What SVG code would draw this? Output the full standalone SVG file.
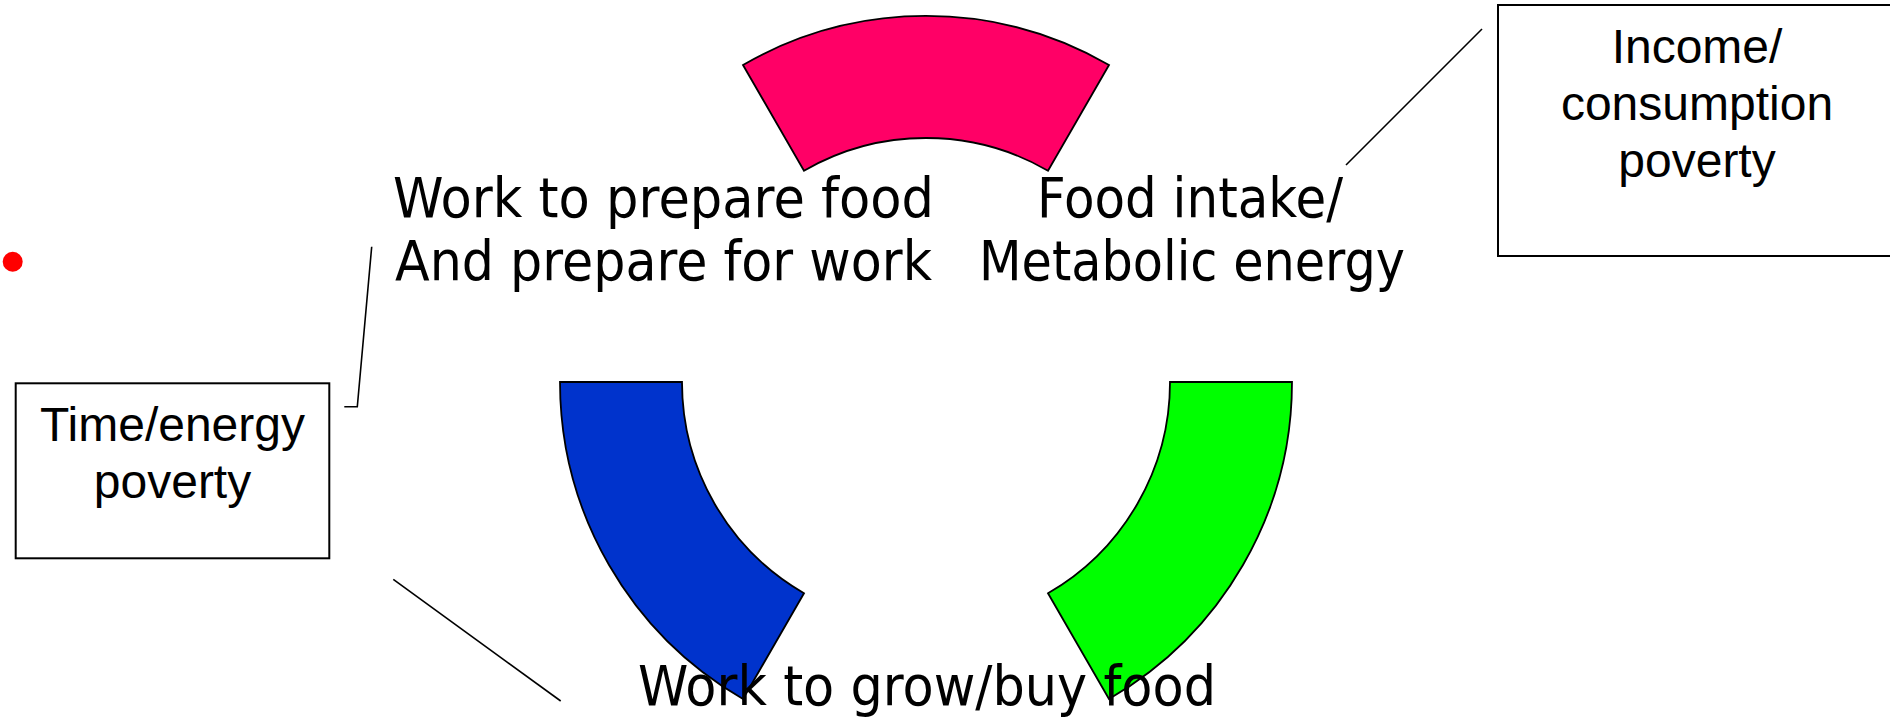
<svg xmlns="http://www.w3.org/2000/svg" width="1890" height="719" viewBox="0 0 1890 719">
  <style>
    .seg { stroke: #000; stroke-width: 1.8; stroke-linejoin: miter; }
    .box { fill: #fff; stroke: #000; stroke-width: 2; }
    .conn { fill: none; stroke: #000; stroke-width: 1.6; }
    .lbl { font-family: 'Comic Sans MS', 'DejaVu Sans', sans-serif; font-size: 56px; fill: #000; }
    .boxt { font-family: 'Liberation Sans', Arial, sans-serif; font-size: 48px; fill: #000; text-anchor: middle; }
  </style>
  <rect width="1890" height="719" fill="#fff"/>

  <g id="connectors">
    <line class="conn" x1="1346" y1="165" x2="1482" y2="29"/>
    <polyline class="conn" points="371.7,246.7 357.3,406.7 344.3,406.7"/>
    <line class="conn" x1="393.3" y1="579.3" x2="560.7" y2="701"/>
  </g>

  <g id="seg-pink">
    <path class="seg" fill="#FF0066" d="M743,65 A366,366 0 0 1 1109,65 L1048,170.7 A244,244 0 0 0 804,170.7 Z"/>
  </g>
  <g id="seg-blue">
    <path class="seg" fill="#0033CC" d="M560,382 A366,366 0 0 0 743,699 L804,593.3 A244,244 0 0 1 682,382 Z"/>
  </g>
  <g id="seg-green">
    <path class="seg" fill="#00FF00" d="M1292,382 A366,366 0 0 1 1109,699 L1048,593.3 A244,244 0 0 0 1170,382 Z"/>
  </g>

  <g id="label-prepare">
    <text class="lbl" x="393" y="217" textLength="541" lengthAdjust="spacingAndGlyphs">Work to prepare food</text>
    <text class="lbl" x="395" y="280" textLength="537" lengthAdjust="spacingAndGlyphs">And prepare for work</text>
  </g>
  <g id="label-intake">
    <text class="lbl" x="1037" y="217" textLength="306" lengthAdjust="spacingAndGlyphs">Food intake/</text>
    <text class="lbl" x="979" y="280" textLength="426" lengthAdjust="spacingAndGlyphs">Metabolic energy</text>
  </g>
  <g id="label-grow">
    <text class="lbl" x="638" y="705" textLength="578" lengthAdjust="spacingAndGlyphs">Work to grow/buy food</text>
  </g>

  <g id="box-income">
    <rect class="box" x="1498" y="5" width="398" height="251"/>
    <text class="boxt" x="1697" y="63">Income/</text>
    <text class="boxt" x="1697" y="120">consumption</text>
    <text class="boxt" x="1697" y="177">poverty</text>
  </g>

  <g id="box-time">
    <rect class="box" x="15.7" y="383.3" width="313.6" height="175"/>
    <text class="boxt" x="172.5" y="441">Time/energy</text>
    <text class="boxt" x="172.5" y="498">poverty</text>
  </g>

  <g id="bullet">
    <circle cx="12.7" cy="261.7" r="10" fill="#FF0000"/>
  </g>
</svg>
